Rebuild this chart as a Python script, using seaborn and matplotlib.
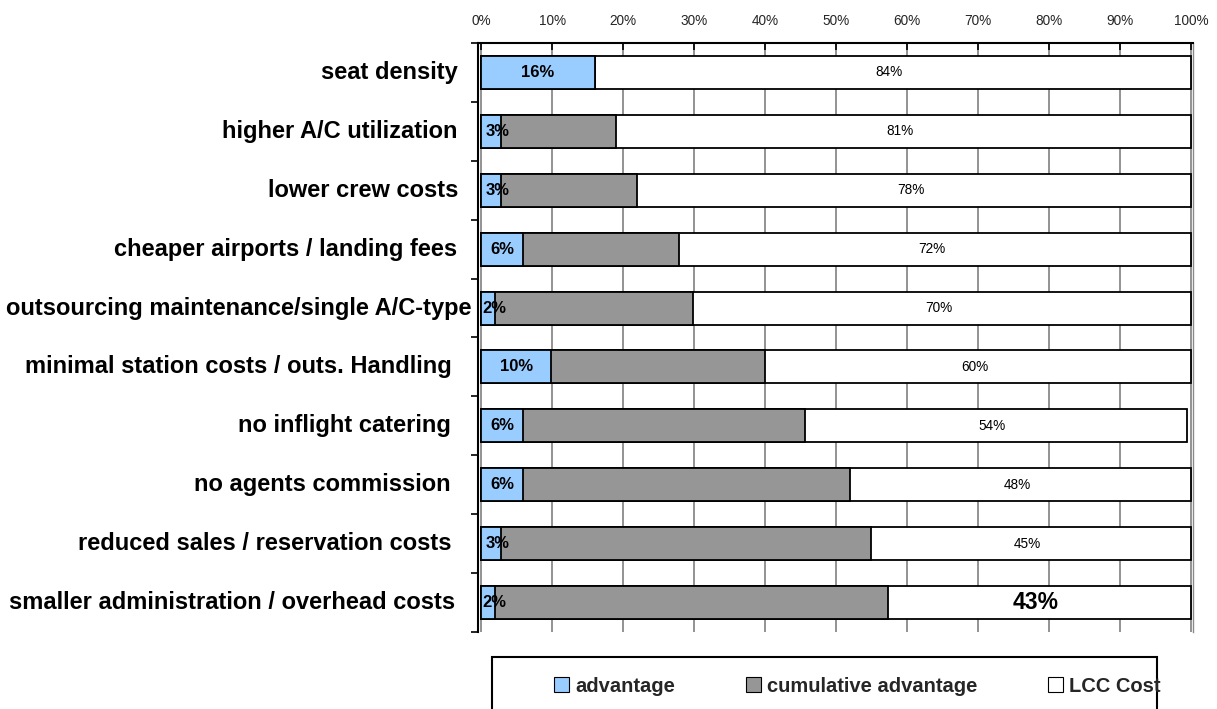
import numpy as np
import pandas as pd
import seaborn as sns
import matplotlib.pyplot as plt
from matplotlib.patches import Patch, Rectangle
from matplotlib.ticker import FixedLocator

# data (percent of full-carrier cost)
categories = ["seat density", "higher A/C utilization", "lower crew costs",
              "cheaper airports / landing fees", "outsourcing maintenance/single A/C-type",
              "minimal station costs / outs. Handling", "no inflight catering",
              "no agents commission", "reduced sales / reservation costs",
              "smaller administration / overhead costs"]
advantage = [16.0, 2.8, 2.8, 5.9, 2.0, 9.9, 5.9, 5.9, 2.8, 2.0]
cumulative = [0.0, 16.2, 19.2, 22.0, 27.9, 30.1, 39.7, 46.1, 52.1, 55.3]
lcc_cost = [84.0, 81.0, 78.0, 72.1, 70.1, 60.0, 53.9, 48.0, 45.1, 42.7]
x_ticks = [0, 10, 20, 30, 40, 50, 60, 70, 80, 90, 100]

df = pd.DataFrame({"category": categories, "advantage": advantage,
                   "cumulative": cumulative, "lcc": lcc_cost})
df["adv_cum"] = df["advantage"] + df["cumulative"]
df["total"] = df["adv_cum"] + df["lcc"]

sns.set_theme(style="white")
plt.rcParams["font.family"] = ["Liberation Sans", "DejaVu Sans"]

fig = plt.figure(figsize=(12.17, 7.09), dpi=100)
ax = fig.add_axes([478 / 1217, 1 - 632 / 709, (1193 - 478) / 1217, (632 - 43) / 709])

# overlapping bars: full length first, then shorter ones on top
bar_kw = dict(data=df, y="category", orient="h", width=0.56, errorbar=None,
              saturation=1, edgecolor="black", linewidth=1.3, ax=ax)
sns.barplot(x="total", color="white", **bar_kw)
sns.barplot(x="adv_cum", color="#969696", **bar_kw)
sns.barplot(x="advantage", color="#99CCFF", **bar_kw)

ax.set_xlim(-0.45, 100.3)
ax.set_ylim(9.5, -0.5)
ax.set_xlabel("")
ax.set_ylabel("")

ax.set_axisbelow(True)
ax.xaxis.tick_top()
ax.set_xticks(x_ticks)
ax.set_xticklabels([f"{t}%" for t in x_ticks])
ax.xaxis.grid(True, color="#8a8a8a", lw=1.3)
ax.tick_params(axis="x", direction="in", length=5, width=1.2, color="black",
               labelsize=9.8, pad=10.5, top=True)

ax.set_yticks(range(len(categories)))
ax.set_yticklabels([])
ax.tick_params(axis="y", which="major", length=0)
ax.yaxis.set_minor_locator(FixedLocator(np.arange(-0.5, len(categories), 1)))
ax.tick_params(axis="y", which="minor", left=True, length=5, width=1.2,
               direction="out", color="black")

ax.spines["bottom"].set_visible(False)
ax.spines["right"].set_color("#8a8a8a")
ax.spines["right"].set_linewidth(1.0)
for s in ["top", "left"]:
    ax.spines[s].set_color("black")
    ax.spines[s].set_linewidth(1.5)

# category labels (right aligned left of the axis)
label_right = [458, 457, 458, 457, 472, 452, 451, 451, 451, 455]
for i, (cat, xr) in enumerate(zip(categories, label_right)):
    ax.annotate(cat, xy=(0, i), xycoords=ax.get_yaxis_transform(),
                xytext=((xr - 478) * 0.72, 0), textcoords="offset points",
                ha="right", va="center", fontsize=17, fontweight="bold",
                color="black")

# value labels
for i, row in df.iterrows():
    ax.text(row["advantage"] / 2 + (0.9 if row["advantage"] < 4 else 0), i,
            f"{round(row['advantage'])}%", ha="center", va="center",
            fontsize=12, fontweight="bold", color="black")
    last = i == len(df) - 1
    ax.text(row["adv_cum"] + row["lcc"] / 2 - 0.5, i, f"{round(row['lcc'])}%",
            ha="center", va="center", fontsize=16.5 if last else 9.8,
            fontweight="bold" if last else "normal", color="black")

# legend box running off the bottom edge
fig.patches.append(Rectangle((492 / 1217, -0.02), (1157 - 492) / 1217, 0.02 + 1 - 657 / 709,
                             transform=fig.transFigure, fill=False,
                             edgecolor="black", lw=1.5, zorder=1))
handles = [Patch(facecolor="#99CCFF", edgecolor="black", lw=0.8, label="advantage"),
           Patch(facecolor="#969696", edgecolor="black", lw=0.8, label="cumulative advantage"),
           Patch(facecolor="white", edgecolor="black", lw=0.8, label="LCC Cost")]
leg = fig.legend(handles=handles, loc="center left", bbox_to_anchor=(536 / 1217, 1 - 686 / 709),
                 ncol=3, frameon=False, handlelength=0.75, handleheight=0.75,
                 handletextpad=0.3, columnspacing=3.5,
                 prop={"size": 14.5, "weight": "bold"})

fig.savefig("out.png", dpi=100)
